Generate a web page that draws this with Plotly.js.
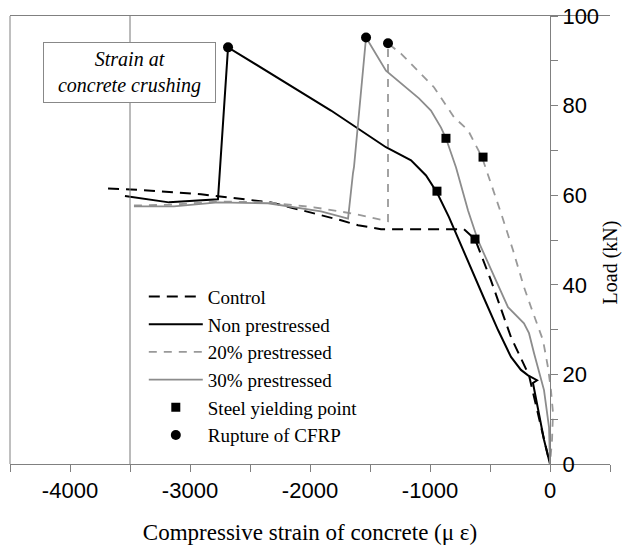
<!DOCTYPE html>
<html>
<head>
<meta charset="utf-8">
<script src="https://cdn.plot.ly/plotly-3.0.1.min.js"></script>
<style>html,body{margin:0;padding:0;background:#fff;}#chart{width:626px;height:552px;}</style>
</head>
<body>
<div id="chart"></div>
<script>
// Compressive strain (micro-strain) and load (kN)
var ctrlX = [-3683, -3492, -2908, -2325, -1742, -1600, -1408, -717, -625, -492, -325, -175, -50, 0];
var ctrlY = [61.5, 61.3, 60.2, 58.4, 54.4, 53.3, 52.4, 52.4, 50.2, 41.0, 28.3, 19.8, 5.5, 0];

var nonX = [-3542, -3175, -2767, -2683, -1825, -1367, -1158, -1033, -942, -842, -550, -433, -325, -242, -183, -108, -142, -50, 0];
var nonY = [59.8, 58.4, 59.1, 93.0, 78.9, 70.7, 67.8, 64.4, 60.6, 55.1, 37.0, 29.9, 23.9, 21.0, 19.8, 18.7, 18.1, 5.4, 0];

var p20X = [-3467, -3133, -2767, -2350, -1967, -1642, -1350, -1350, -1242, -967, -800, -683, -567, -492, -408, -308, -217, -158, -58, -17, 8, 25, 17, 0];
var p20Y = [57.7, 57.9, 58.6, 58.4, 57.3, 55.9, 54.2, 93.9, 91.6, 84.1, 77.4, 74.5, 68.5, 62.7, 56.0, 47.7, 39.5, 35.0, 27.6, 21.6, 16.5, 11.4, 5.4, 0];

var p30X = [-3467, -3133, -2767, -2350, -1908, -1683, -1642, -1633, -1533, -1367, -1092, -992, -908, -867, -783, -683, -600, -492, -350, -217, -175, -133, -50, -8, 0];
var p30Y = [57.5, 57.5, 58.4, 58.2, 56.4, 54.8, 64.9, 66.4, 95.2, 87.8, 81.6, 78.9, 75.1, 72.7, 66.2, 56.6, 49.9, 43.3, 35.0, 31.4, 29.2, 24.7, 16.5, 8.2, 0];

var yieldX = [-625, -942, -867, -558];
var yieldY = [50.2, 60.9, 72.7, 68.5];

var ruptX = [-2683, -1533, -1350];
var ruptY = [93.0, 95.2, 93.9];

var xTicks = [-4000, -3000, -2000, -1000, 0];
var yTicks = [0, 20, 40, 60, 80, 100];
var crushX = -3500;

var serif = 'Liberation Serif, Times New Roman, serif';
var sans = 'Liberation Sans, Arial, sans-serif';

var traces = [
  {x: ctrlX, y: ctrlY, mode: 'lines', name: 'Control',
   line: {color: '#000', width: 2, dash: '11px,7px'}},
  {x: nonX, y: nonY, mode: 'lines', name: 'Non prestressed',
   line: {color: '#000', width: 2}},
  {x: p20X, y: p20Y, mode: 'lines', name: '20% prestressed',
   line: {color: '#999', width: 1.8, dash: '8px,7px'}},
  {x: p30X, y: p30Y, mode: 'lines', name: '30% prestressed',
   line: {color: '#8c8c8c', width: 1.8}},
  {x: yieldX, y: yieldY, mode: 'markers', name: 'Steel yielding point',
   marker: {symbol: 'square', color: '#000', size: 9}},
  {x: ruptX, y: ruptY, mode: 'markers', name: 'Rupture of CFRP',
   marker: {symbol: 'circle', color: '#000', size: 10}}
];

var layout = {
  width: 626, height: 552,
  margin: {l: 10, r: 16, t: 15.5, b: 88, pad: 0},
  paper_bgcolor: '#fff', plot_bgcolor: '#fff',
  showlegend: true,
  legend: {x: 0.223, y: 0.416, xanchor: 'left', yanchor: 'top',
           bgcolor: 'rgba(0,0,0,0)', borderwidth: 0, tracegroupgap: 0,
           itemwidth: 54,
           font: {family: serif, size: 19, color: '#000'}},
  xaxis: {
    range: [-4500, 500], showgrid: false, zeroline: false,
    showline: true, linecolor: '#808080', linewidth: 1, mirror: true,
    tickmode: 'array', tickvals: xTicks, ticktext: xTicks.map(String),
    ticks: 'outside', ticklen: 7, tickcolor: '#808080',
    minor: {dtick: 500, tick0: 0, ticks: 'outside', ticklen: 7, tickcolor: '#808080', showgrid: false},
    tickfont: {family: sans, size: 22, color: '#000'},
    title: {text: 'Compressive strain of concrete (\u03bc \u03b5)', font: {family: serif, size: 23, color: '#000'}, standoff: 21},
    automargin: false
  },
  yaxis: {
    range: [0, 100], showgrid: false, zeroline: false,
    anchor: 'free', position: 0.9, side: 'right',
    showline: true, linecolor: '#808080', linewidth: 1,
    tickmode: 'array', tickvals: yTicks, ticktext: yTicks.map(String),
    ticks: 'outside', ticklen: 7, tickcolor: '#808080',
    minor: {dtick: 10, tick0: 0, ticks: 'outside', ticklen: 7, tickcolor: '#808080', showgrid: false},
    tickfont: {family: sans, size: 22, color: '#000'},
    automargin: false
  },
  shapes: [
    {type: 'line', xref: 'paper', yref: 'paper', x0: 0, x1: 0, y0: 0, y1: 1,
     line: {color: '#808080', width: 1}},
    {type: 'line', xref: 'x', yref: 'y', x0: crushX, x1: crushX, y0: 0, y1: 100,
     line: {color: '#777', width: 1}}
  ],
  annotations: [
    {xref: 'x', yref: 'y', x: -3508, y: 87.5, xanchor: 'center', yanchor: 'middle',
     text: '<i>Strain at</i><br><i>concrete crushing</i>', showarrow: false,
     font: {family: serif, size: 20, color: '#000'},
     bordercolor: '#888', borderwidth: 1, borderpad: 3, bgcolor: '#fff',
     width: 165, height: 53, align: 'center'},
    {xref: 'paper', yref: 'paper', x: 1.0, y: 0.45, xanchor: 'center', yanchor: 'middle',
     text: 'Load (kN)', textangle: -90, showarrow: false,
     font: {family: serif, size: 20, color: '#000'}}
  ]
};

Plotly.newPlot('chart', traces, layout, {displayModeBar: false, staticPlot: true});
</script>
</body>
</html>
